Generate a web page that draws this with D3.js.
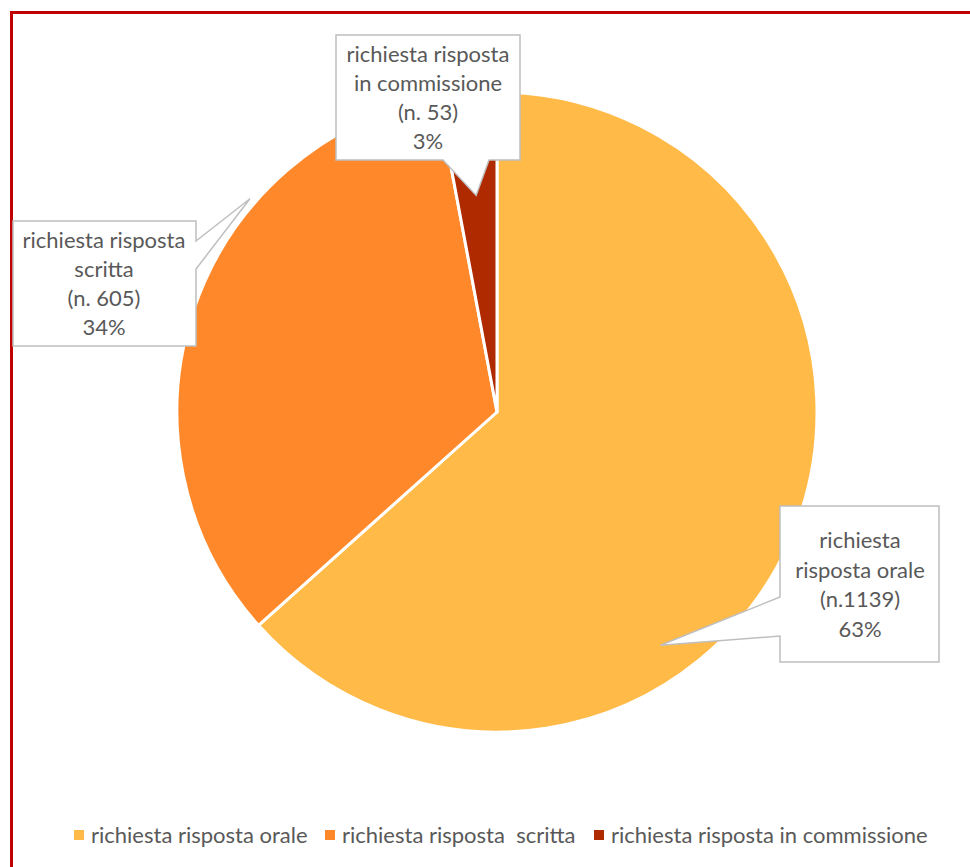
<!DOCTYPE html>
<html>
<head>
<meta charset="utf-8">
<script src="https://cdn.jsdelivr.net/npm/d3@7"></script>
<style>
  html, body { margin: 0; padding: 0; background: #fff; }
  svg { display: block; }
  text { font-family: Lato, "Open Sans", sans-serif; fill: #595959; }
</style>
</head>
<body>
<svg id="chart" width="970" height="867"></svg>
<script>
// ---- data ----
const categories = ["richiesta risposta orale", "richiesta risposta  scritta", "richiesta risposta in commissione"];
const values = [1139, 605, 53];
const percentLabels = ["63%", "34%", "3%"];
const countLabels = ["(n.1139)", "(n. 605)", "(n. 53)"];
const labelLines = [
  ["richiesta", "risposta orale"],
  ["richiesta risposta", "scritta"],
  ["richiesta risposta", "in commissione"]
];
const colors = ["#FFBA47", "#FF882A", "#B02A00"];

// ---- layout ----
const W = 970, H = 867;
const cx = 497, cy = 412, R = 320;
const svg = d3.select("#chart");

// frame (red border top and left)
svg.append("line").attr("x1", 11).attr("x2", W).attr("y1", 12.5).attr("y2", 12.5)
  .attr("stroke", "#C00000").attr("stroke-width", 3);
svg.append("line").attr("x1", 11.5).attr("x2", 11.5).attr("y1", 11).attr("y2", H)
  .attr("stroke", "#C00000").attr("stroke-width", 3);

const pie = d3.pie().sort(null).value(d => d);
const arcs = pie(values);
const arc = d3.arc().innerRadius(0).outerRadius(R);

const g = svg.append("g").attr("transform", `translate(${cx},${cy})`);
g.selectAll("path.slice").data(arcs).enter().append("path")
  .attr("class", "slice")
  .attr("d", arc)
  .attr("fill", (d, i) => colors[i])
  .attr("stroke", "#fff")
  .attr("stroke-width", 3)
  .attr("stroke-linejoin", "round");

// callout boxes: box rect, pointer side and pointer tip given as angle (deg) & radius factor
const callouts = [
  { box: [780, 506, 939, 662], side: "left", p1: 597, p2: 636, tipAngle: 145, tipR: 0.89, cxText: 860, base: 548, step: 29.6 },
  { box: [13, 221, 196, 346], side: "right", p1: 241, p2: 269, tipAngle: 310.8, tipR: 1.02, cxText: 104, base: 248, step: 29 },
  { box: [336, 35, 520, 160], side: "bottom", p1: 443, p2: 489, tipAngle: 354.5, tipR: 0.68, cxText: 428, base: 62, step: 29 }
];

function calloutPath(c) {
  const [x0, y0, x1, y1] = c.box;
  const a = c.tipAngle * Math.PI / 180;
  const tx = cx + Math.sin(a) * R * c.tipR;
  const ty = cy - Math.cos(a) * R * c.tipR;
  const p = d3.path();
  p.moveTo(x0, y0);
  p.lineTo(x1, y0);
  if (c.side === "right") { p.lineTo(x1, c.p1); p.lineTo(tx, ty); p.lineTo(x1, c.p2); }
  p.lineTo(x1, y1);
  if (c.side === "bottom") { p.lineTo(c.p2, y1); p.lineTo(tx, ty); p.lineTo(c.p1, y1); }
  p.lineTo(x0, y1);
  if (c.side === "left") { p.lineTo(x0, c.p2); p.lineTo(tx, ty); p.lineTo(x0, c.p1); }
  p.closePath();
  return p.toString();
}

callouts.forEach((c, i) => {
  svg.append("path").attr("d", calloutPath(c))
    .attr("fill", "#fff").attr("stroke", "#BFBFBF").attr("stroke-width", 1.5);
  const lines = labelLines[i].concat([countLabels[i], percentLabels[i]]);
  const t = svg.append("text").attr("text-anchor", "middle").attr("font-size", 22);
  lines.forEach((l, k) => {
    t.append("tspan").attr("x", c.cxText).attr("y", c.base + k * c.step).text(l);
  });
});

// legend
const legendX = [74, 325, 594];
const legendY = 836;
const lg = svg.append("g");
categories.forEach((name, i) => {
  lg.append("rect").attr("x", legendX[i]).attr("y", legendY - 6).attr("width", 10).attr("height", 10)
    .attr("fill", colors[i]);
  lg.append("text").attr("x", legendX[i] + 17).attr("y", legendY + 7)
    .attr("font-size", 22).attr("xml:space", "preserve").style("white-space", "pre")
    .text(name);
});
</script>
</body>
</html>
